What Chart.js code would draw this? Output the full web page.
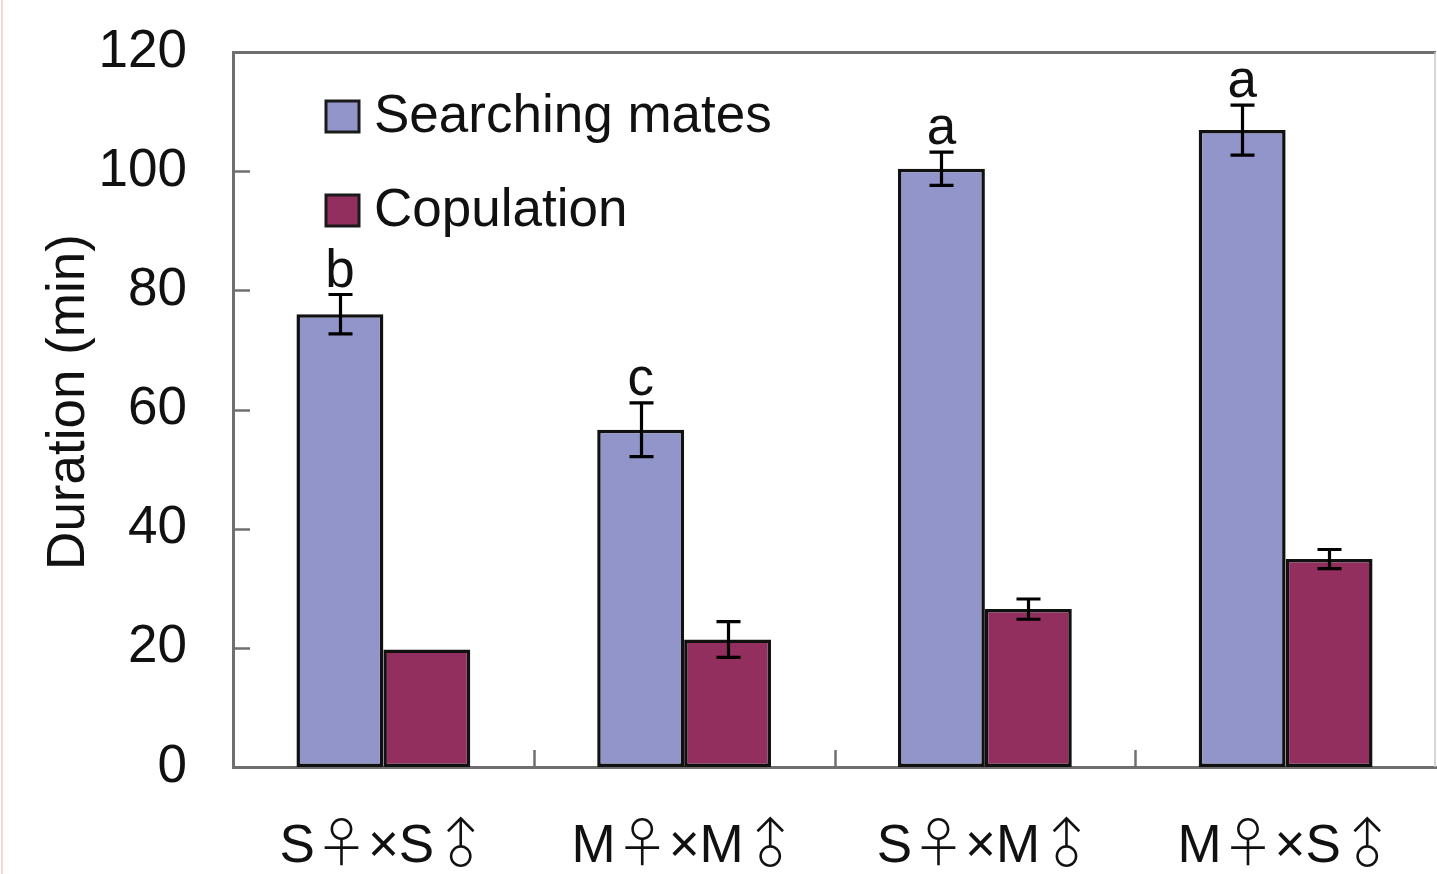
<!DOCTYPE html>
<html>
<head>
<meta charset="utf-8">
<script src="https://cdn.jsdelivr.net/npm/chart.js@4.4.1/dist/chart.umd.min.js"></script>
<style>
  html, body { margin: 0; padding: 0; background: #ffffff; overflow: hidden; }
  #wrap { width: 1437px; height: 874px; position: relative; }
</style>
</head>
<body>
<div id="wrap"><canvas id="c" width="1437" height="874"></canvas></div>
<script>
// Mating crosses (female × male)
const crosses = ['S♀×S♂', 'M♀×M♂', 'S♀×M♂', 'M♀×S♂'];

// Mean duration (min) and standard error per cross
const searchingMates = [76.0, 56.6, 100.4, 106.9];
const searchingErr   = [3.3, 4.5, 2.8, 4.2];
const copulation     = [19.7, 21.4, 26.5, 34.9];
const copulationErr  = [0, 3.0, 1.7, 1.6];

// Significance groups for searching time
const groupLetters = ['b', 'c', 'a', 'a'];

const yMin = 0, yMax = 120, yStep = 20;

const LATIN = '"Liberation Sans", Arial, sans-serif';
const SYMBOL = '"Noto Sans CJK SC", "DejaVu Sans", sans-serif';
const FS = 53;
const AXIS_COLOR = '#6f6f6f';
const TEXT_COLOR = '#111111';

const errors = [searchingErr, copulationErr];

// Error bars, group letters, inward ticks, frame, legend, labels
const decorations = {
  id: 'decorations',
  afterDatasetsDraw(chart) {
    const { ctx, chartArea: a, scales: { x, y } } = chart;
    ctx.save();

    // frame top and right
    ctx.strokeStyle = AXIS_COLOR;
    ctx.lineWidth = 3;
    ctx.beginPath();
    ctx.moveTo(a.left, a.top + 0.5);
    ctx.lineTo(a.right, a.top + 0.5);
    ctx.stroke();
    ctx.strokeStyle = '#c8c8c8';
    ctx.lineWidth = 1.5;
    ctx.beginPath();
    ctx.moveTo(a.right - 1, a.top);
    ctx.lineTo(a.right - 1, a.bottom);
    ctx.stroke();

    // inward y ticks
    ctx.strokeStyle = AXIS_COLOR;
    ctx.lineWidth = 2.5;
    y.ticks.forEach(t => {
      const py = Math.round(y.getPixelForValue(t.value)) + 0.5;
      ctx.beginPath();
      ctx.moveTo(a.left, py);
      ctx.lineTo(a.left + 17, py);
      ctx.stroke();
    });
    // inward x ticks at category boundaries
    for (let i = 0; i < crosses.length - 1; i++) {
      const px = Math.round((x.getPixelForValue(i) + x.getPixelForValue(i + 1)) / 2) + 0.5;
      ctx.beginPath();
      ctx.moveTo(px, a.bottom);
      ctx.lineTo(px, a.bottom - 17);
      ctx.stroke();
    }

    // error bars
    ctx.strokeStyle = '#000000';
    ctx.lineWidth = 3.2;
    chart.data.datasets.forEach((ds, di) => {
      const meta = chart.getDatasetMeta(di);
      meta.data.forEach((bar, i) => {
        const e = errors[di][i];
        if (!e) return;
        const top = y.getPixelForValue(ds.data[i] + e);
        const bot = y.getPixelForValue(ds.data[i] - e);
        const cx = Math.round(bar.x) + 0.5;
        ctx.beginPath();
        ctx.moveTo(cx, top); ctx.lineTo(cx, bot);
        ctx.moveTo(cx - 12, top); ctx.lineTo(cx + 12, top);
        ctx.moveTo(cx - 12, bot); ctx.lineTo(cx + 12, bot);
        ctx.stroke();
      });
    });

    // group letters over searching bars
    ctx.fillStyle = TEXT_COLOR;
    ctx.font = `${FS}px ${LATIN}`;
    ctx.textAlign = 'center';
    ctx.textBaseline = 'alphabetic';
    const m0 = chart.getDatasetMeta(0);
    m0.data.forEach((bar, i) => {
      const top = y.getPixelForValue(searchingMates[i] + searchingErr[i]);
      ctx.fillText(groupLetters[i], bar.x, top - 8);
    });

    // legend inside the plot
    const rows = [116, 210];
    chart.data.datasets.forEach((ds, di) => {
      const cy = rows[di];
      ctx.fillStyle = ds.backgroundColor;
      ctx.fillRect(326, cy - 15, 33, 31);
      ctx.strokeStyle = '#1a1a1a';
      ctx.lineWidth = 3;
      ctx.strokeRect(326, cy - 15, 33, 31);
      ctx.fillStyle = TEXT_COLOR;
      ctx.font = `${FS}px ${LATIN}`;
      ctx.textAlign = 'left';
      ctx.textBaseline = 'middle';
      ctx.fillText(ds.label, 374, cy + 1);
    });

    // category labels; sex symbols in a CJK face, male arrow pointing up
    ctx.textBaseline = 'alphabetic';
    ctx.textAlign = 'left';
    crosses.forEach((label, i) => {
      const parts = [...label].map(ch => ({
        ch,
        font: /[♀♂]/.test(ch) ? `300 ${FS}px ${SYMBOL}` : `${FS}px ${LATIN}`
      }));
      let total = 0;
      parts.forEach(p => { ctx.font = p.font; p.w = ctx.measureText(p.ch).width; total += p.w; });
      let px = x.getPixelForValue(i) - total / 2;
      parts.forEach(p => {
        ctx.font = p.font;
        if (p.ch === '♂') {
          const gx = px + p.w / 2, gy = 862 - FS * 0.36;
          ctx.save();
          ctx.translate(gx, gy);
          ctx.rotate(-Math.PI / 4);
          ctx.textAlign = 'center';
          ctx.textBaseline = 'middle';
          ctx.fillText(p.ch, 0, 0);
          ctx.restore();
        } else {
          ctx.fillText(p.ch, px, 862);
        }
        px += p.w;
      });
    });

    // y axis title
    ctx.save();
    ctx.translate(84, 402);
    ctx.rotate(-Math.PI / 2);
    ctx.font = `${FS}px ${LATIN}`;
    ctx.textAlign = 'center';
    ctx.textBaseline = 'alphabetic';
    ctx.fillText('Duration (min)', 0, 0);
    ctx.restore();

    // faint page edge
    ctx.strokeStyle = '#f7d6d6';
    ctx.lineWidth = 2;
    ctx.beginPath();
    ctx.moveTo(2, 0); ctx.lineTo(2, 874);
    ctx.stroke();

    ctx.restore();
  }
};

const chart = new Chart(document.getElementById('c'), {
  type: 'bar',
  data: {
    labels: crosses,
    datasets: [
      {
        label: 'Searching mates',
        data: searchingMates,
        backgroundColor: '#9295c9',
        borderColor: '#111111',
        borderWidth: 3.5,
        borderSkipped: false
      },
      {
        label: 'Copulation',
        data: copulation,
        backgroundColor: '#922f5f',
        borderColor: '#111111',
        borderWidth: 3.5,
        borderSkipped: false
      }
    ]
  },
  options: {
    responsive: false,
    animation: false,
    devicePixelRatio: 1,
    layout: { padding: { top: 52, right: 1, left: 0, bottom: 0 } },
    datasets: { bar: { categoryPercentage: 0.578, barPercentage: 1.0 } },
    plugins: { legend: { display: false }, tooltip: { enabled: false } },
    scales: {
      x: {
        grid: { display: false, drawTicks: false },
        border: { display: true, color: AXIS_COLOR, width: 3 },
        ticks: { display: false },
        afterFit(scale) {
          scale.height = 874 - 767;
          scale.paddingLeft = 0; scale.paddingRight = 0;
        }
      },
      y: {
        min: yMin,
        max: yMax,
        grid: { display: false, drawTicks: false },
        border: { display: true, color: AXIS_COLOR, width: 3 },
        ticks: {
          stepSize: yStep,
          padding: 46,
          color: TEXT_COLOR,
          font: { family: LATIN, size: FS }
        },
        afterFit(scale) {
          scale.width = 233;
          scale.paddingTop = 0; scale.paddingBottom = 0;
        }
      }
    }
  },
  plugins: [decorations]
});
</script>
</body>
</html>
